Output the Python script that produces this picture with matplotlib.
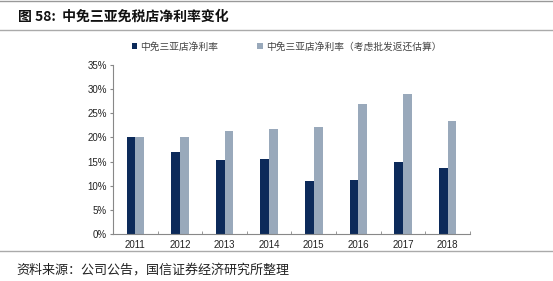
import numpy as np
import matplotlib
matplotlib.use('Agg')
import matplotlib.pyplot as plt
from matplotlib.ticker import MultipleLocator, FuncFormatter

plt.rcParams['font.family'] = ['Noto Sans CJK SC', 'DejaVu Sans']

years = ['2011', '2012', '2013', '2014', '2015', '2016', '2017', '2018']
net_margin = [20.0, 17.0, 15.3, 15.5, 11.0, 11.2, 14.9, 13.7]
net_margin_adj = [20.0, 20.1, 21.3, 21.7, 22.1, 27.0, 28.9, 23.4]
labels = ['中免三亚店净利率', '中免三亚店净利率（考虑批发返还估算）']

DARK = '#0c2a5a'
GRAY = '#99a9bb'
NUMFONT = ['Liberation Sans', 'DejaVu Sans']

fig = plt.figure(figsize=(5.53, 2.81), dpi=100)
ax = fig.add_axes([0.2043, 0.1673, 0.6456, 0.6014])

x = np.arange(len(years))
w = 0.195
ax.bar(x - w/2, net_margin, w, color=DARK, label=labels[0])
ax.bar(x + w/2, net_margin_adj, w, color=GRAY, label=labels[1])

ax.set_xlim(-0.5, len(years) - 0.5)
ax.set_ylim(0, 35)
ax.yaxis.set_major_locator(MultipleLocator(5))
ax.yaxis.set_major_formatter(FuncFormatter(lambda v, p: f'{v:.0f}%'))
ax.set_xticks(x)
ax.set_xticklabels(years)
#minor ticks between categories, like the excel style axis
ax.set_xticks(np.arange(-0.5, len(years)), minor=True)
ax.tick_params(axis='x', which='major', length=0, labelsize=7, pad=4,
               labelcolor='#222222')
ax.tick_params(axis='x', which='minor', length=2.5, direction='in',
               color='#888888')
ax.tick_params(axis='y', length=2.5, labelsize=7, color='#888888',
               labelcolor='#222222', pad=2)
for lbl in ax.get_xticklabels() + ax.get_yticklabels():
    lbl.set_family(NUMFONT)
for side in ['top', 'right']:
    ax.spines[side].set_visible(False)
for side in ['left', 'bottom']:
    ax.spines[side].set_color('#888888')
    ax.spines[side].set_linewidth(0.8)

leg = fig.legend(loc='center left', bbox_to_anchor=(0.222, 0.834), ncol=2,
                 frameon=False, fontsize=7, handlelength=0.6,
                 handleheight=0.6, handletextpad=0.3, columnspacing=4.0)
for t in leg.get_texts():
    t.set_color('#444444')

#title and source lines with grey rules
fig.add_artist(plt.Line2D([0.0, 1.0], [0.996, 0.996], color='#999999', lw=1))
fig.add_artist(plt.Line2D([0.0, 1.0], [0.893, 0.893], color='#aaaaaa', lw=1))
fig.add_artist(plt.Line2D([0.0, 1.0], [0.107, 0.107], color='#aaaaaa', lw=1))
fig.text(0.032, 0.942, '图 58:  中免三亚免税店净利率变化', fontsize=10,
         fontweight='bold', va='center', ha='left', color='#111111')
fig.text(0.030, 0.040, '资料来源：公司公告，国信证券经济研究所整理', fontsize=9.4,
         va='center', ha='left', color='#222222')

fig.savefig('out.png', dpi=100)
